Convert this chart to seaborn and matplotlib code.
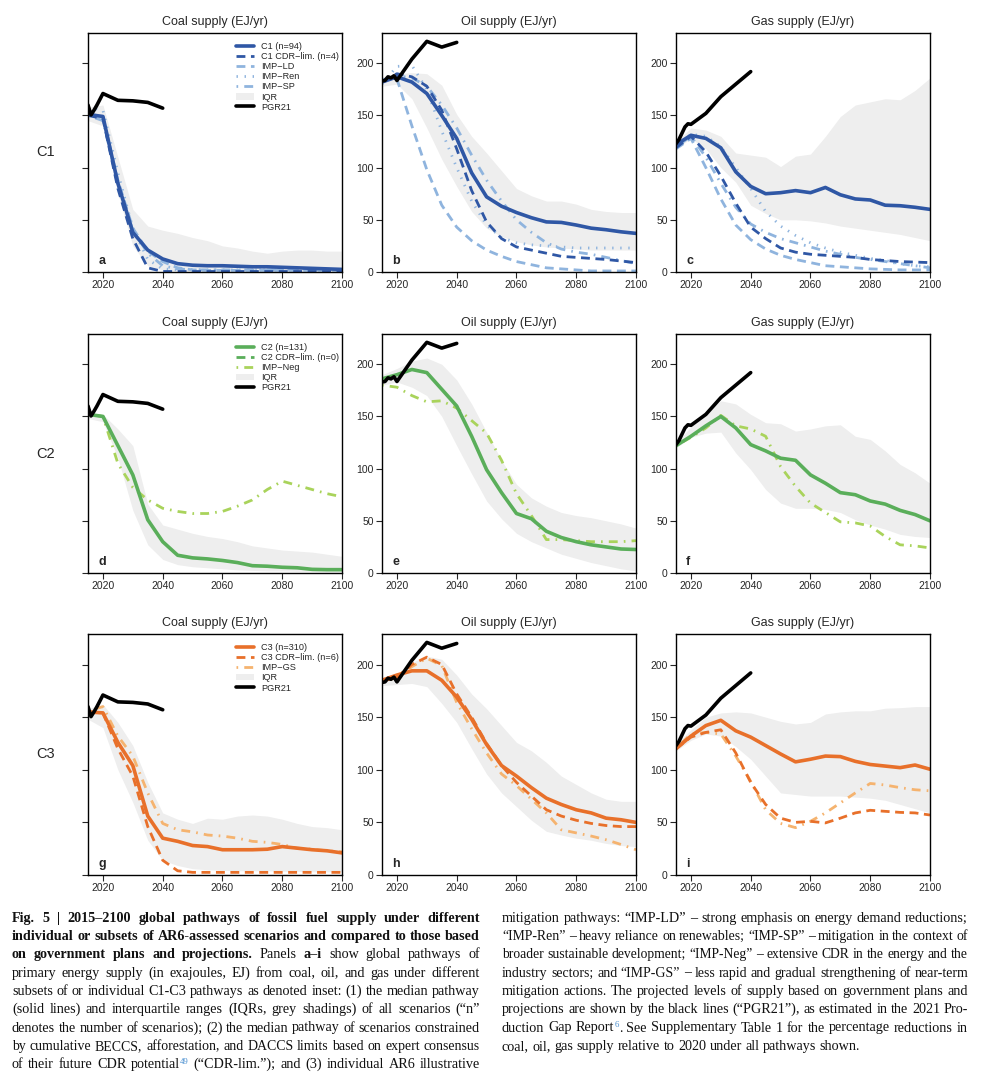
import re
import matplotlib
matplotlib.use("Agg")
import matplotlib.pyplot as plt
import seaborn as sns

### Data (EJ/yr) ###
years = list(range(2015, 2101, 5))
pgr_years = [2015, 2016, 2017, 2018, 2019, 2020, 2025, 2030, 2035, 2040]
pgr_coal = [160, 150.5, 155, 160, 165.5, 171, 164.5, 164, 162.5, 157]
pgr_oil = [183, 183.5, 187, 186, 188, 183.5, 204, 221, 215.5, 220]
pgr_gas = [123, 127, 133, 139, 142, 141.5, 152, 168, 180, 192]

# C1
coal_c1 = [151, 149, 85, 38, 21, 12.5, 8, 6.5, 6, 6, 5.5, 5, 5, 4.5, 4, 3.5, 3, 2.5]
coal_c1_cdr = [150, 147, 80, 32, 4, 0.5, 0.5, 0.5, 0.5, 0.5, 0.5, 0.5, 0.5, 0.5, 0.5, 0.5, 0.5, 0.5]
coal_c1_ld = [152, 148, 88, 42, 20, 10, 4, 2, 1.5, 1.5, 1.5, 1.5, 1.5, 1.5, 1.5, 1.5, 1.5, 1.5]
coal_c1_ren = [158, 155, 95, 42, 12, 3, 2, 2, 2, 2, 2, 2, 2, 2, 2, 2, 2, 2]
coal_c1_sp = [150, 145, 85, 40, 18, 6, 3, 2, 2, 2, 2, 2, 2, 2, 2, 2, 2, 2]
coal_c1_lo = [145, 140, 75, 25, 6, 2, 1, 0.5, 0.5, 0.5, 0.5, 0.5, 0.5, 0.5, 0.5, 0.5, 0.5, 0.5]
coal_c1_hi = [158, 160, 110, 60, 44, 40, 37, 33, 30, 25, 23, 20, 18, 20, 21, 21, 20, 20]

oil_c1 = [182, 187, 182, 171, 150, 128, 95, 72, 63, 57, 52, 48, 47.5, 45, 42, 40.5, 38.5, 37]
oil_c1_cdr = [183, 190, 187, 178, 155, 118, 78, 48, 32, 24, 21, 18, 15, 14, 13, 12, 10.5, 9]
oil_c1_ld = [184, 185, 140, 98, 64, 43, 30, 21, 15, 10, 7, 4, 3, 2, 1, 1, 1, 1]
oil_c1_ren = [180, 197, 198, 175, 135, 100, 68, 45, 33, 28, 26, 25, 24, 23, 23, 23, 23, 23]
oil_c1_sp = [183, 188, 186, 178, 160, 138, 112, 88, 68, 50, 38, 28, 22, 19, 17, 14, 11, 8]
oil_c1_lo = [178, 180, 166, 138, 108, 82, 58, 42, 34, 29, 26, 24, 23, 22, 21, 21, 21, 21]
oil_c1_hi = [187, 190, 191, 190, 179, 151, 130, 114, 97, 80, 73, 68, 68, 65, 60, 58, 57, 57]

gas_c1 = [122, 131, 128, 119, 96, 82, 75, 76, 78, 76, 81, 74, 70, 69, 64, 63.5, 62, 60]
gas_c1_cdr = [119, 130, 115, 92, 66, 43, 32, 23, 19, 17, 16, 15, 14, 12, 11, 10, 9.5, 9]
gas_c1_ld = [118, 128, 100, 70, 45, 31, 22, 16, 12, 9, 6, 5, 4, 3, 2.5, 2, 2, 2]
gas_c1_ren = [120, 132, 130, 120, 100, 80, 58, 44, 35, 28, 23, 19, 16, 13, 11, 8, 6, 5]
gas_c1_sp = [120, 130, 110, 85, 62, 46, 38, 32, 28, 24, 20, 17, 14, 12, 10, 8, 6, 4]
gas_c1_lo = [118, 128, 118, 100, 86, 64, 56, 50, 50, 49, 47, 44, 42, 40, 38, 36, 33, 30]
gas_c1_hi = [125, 138, 136, 130, 114, 112, 110, 101, 111, 113, 130, 149, 160, 163, 166, 165, 174, 186]

# C2
coal_c2 = [152, 150, 122, 94, 51, 30, 17, 14.5, 13.5, 12, 10, 7, 6.5, 5.5, 5, 3.5, 3.2, 3.2]
coal_c2_neg = [152, 150, 105, 82, 70, 62, 59, 57, 57, 59, 64, 70, 80, 88, 84, 80, 76, 73]
coal_c2_lo = [148, 145, 110, 60, 27, 13, 8, 6, 5, 4, 3, 2.5, 2, 2, 1.5, 1.5, 1, 1]
coal_c2_hi = [153, 152, 138, 122, 66, 46, 42, 38, 35, 33, 30, 26, 24, 22, 21, 20, 18, 16]

oil_c2 = [186, 190, 195, 192, 176, 160, 131, 99, 77, 57, 52, 40, 34, 30, 27, 25, 23, 22.5]
oil_c2_neg = [180, 178, 170, 164, 165, 158, 146, 134, 108, 76, 55, 32, 32, 31, 30, 30, 30, 31]
oil_c2_lo = [180, 183, 178, 170, 150, 122, 95, 69, 52, 38, 30, 24, 18, 14, 10, 7, 4, 2]
oil_c2_hi = [190, 196, 203, 206, 200, 185, 162, 135, 108, 85, 72, 64, 58, 55, 53, 50, 47, 43]

gas_c2 = [122, 131, 141, 150, 139, 123, 117, 110, 108, 94, 86, 77, 75, 69, 66, 60, 56, 50]
gas_c2_neg = [122, 130, 139, 151, 141, 138, 131, 102, 83, 67, 58, 49, 48, 45, 35, 27, 26, 24]
gas_c2_lo = [120, 130, 134, 135, 115, 99, 80, 67, 62, 62, 61, 58, 51, 46, 42, 37, 35, 34]
gas_c2_hi = [125, 140, 155, 165, 162, 152, 144, 143, 136, 138, 141, 142, 131, 128, 117, 104, 96, 86]

# C3
coal_c3 = [155, 154, 126, 104, 56, 35, 32, 28, 27, 24, 24, 24, 24.5, 27, 25.5, 24, 23, 21]
coal_c3_cdr = [155, 154, 120, 94, 46, 14, 4, 2.5, 2.5, 2.5, 2.5, 2.5, 2.5, 2.5, 2.5, 2.5, 2.5, 2.5]
coal_c3_gs = [156, 160, 132, 113, 78, 49, 43, 41, 38, 37, 35, 32, 31, 29, 25.5, 24.5, 23, 22]
coal_c3_lo = [148, 140, 100, 69, 33, 14, 9, 6, 5, 4.5, 4, 4, 4, 3.5, 3.5, 3, 3, 3]
coal_c3_hi = [158, 162, 145, 123, 88, 59, 53, 49, 54, 53, 56, 57, 56, 53, 49, 46, 45, 43]

oil_c3 = [185, 190, 194, 194, 185, 169, 148, 124, 104, 94, 83, 73, 67, 62, 59, 54, 52.5, 50]
oil_c3_cdr = [184, 188, 200, 207, 200, 172, 150, 125, 104, 88, 75, 62, 56, 52, 49, 47, 46, 46]
oil_c3_gs = [183, 188, 198, 206, 199, 164, 139, 116, 96, 85, 72, 59, 43, 40, 37, 33.5, 29, 24]
oil_c3_lo = [180, 181, 182, 179, 163, 145, 120, 96, 78, 65, 52, 41.5, 38, 35, 33, 30, 28, 27]
oil_c3_hi = [188, 191, 202, 208, 205, 190, 172, 158, 142, 126, 118, 107, 94, 86, 78, 72, 70, 70]

gas_c3 = [120, 132, 142, 147, 137, 131, 123, 115, 107.5, 110, 113, 112.5, 108, 105, 103.5, 102, 104.5, 100.5]
gas_c3_cdr = [120, 131, 135.5, 138, 116, 88, 67, 54, 50, 51, 49.5, 54, 59, 61.5, 60.5, 59.5, 59, 57]
gas_c3_gs = [120, 134, 135.5, 134, 113, 89, 62, 49, 45, 51, 59, 68.5, 78, 87, 85.5, 83, 81, 80]
gas_c3_lo = [118, 128, 134, 132, 122, 110, 94, 78, 76.5, 75, 75, 75, 74, 73, 71, 67, 63, 59]
gas_c3_hi = [125, 138, 150, 154, 155, 154, 150, 146, 143.5, 145, 153, 155, 156, 156, 158.5, 159, 160, 160]

fuels = ["Coal", "Oil", "Gas"]
pgr = [pgr_coal, pgr_oil, pgr_gas]
letters = ["a", "b", "c", "d", "e", "f", "g", "h", "i"]

### Styles ###
c_blue, c_blue_l = "#2f57a5", "#8fb4de"
c_green, c_green_l = "#5aae5a", "#a9d35b"
c_orange, c_orange_l = "#e8702a", "#f5b36f"
iqr_grey = "#eeeeee"
DASH = (0, (3.2, 2.0))
DOT = (0, (0.5, 2.4))
DASHDOT = (0, (0.6, 2.2, 3.2, 2.2))
M = "\u2212"

rows = [
    dict(name="C1", color=c_blue, light=c_blue_l,
         med_label="C1 (n=94)", cdr_label=f"C1 CDR{M}lim. (n=4)",
         imp_labels=[f"IMP{M}LD", f"IMP{M}Ren", f"IMP{M}SP"], imp_styles=[DASH, DOT, DASHDOT],
         panels=[(coal_c1, coal_c1_cdr, [coal_c1_ld, coal_c1_ren, coal_c1_sp], coal_c1_lo, coal_c1_hi),
                 (oil_c1, oil_c1_cdr, [oil_c1_ld, oil_c1_ren, oil_c1_sp], oil_c1_lo, oil_c1_hi),
                 (gas_c1, gas_c1_cdr, [gas_c1_ld, gas_c1_ren, gas_c1_sp], gas_c1_lo, gas_c1_hi)]),
    dict(name="C2", color=c_green, light=c_green_l,
         med_label="C2 (n=131)", cdr_label=f"C2 CDR{M}lim. (n=0)",
         imp_labels=[f"IMP{M}Neg"], imp_styles=[DASHDOT],
         panels=[(coal_c2, None, [coal_c2_neg], coal_c2_lo, coal_c2_hi),
                 (oil_c2, None, [oil_c2_neg], oil_c2_lo, oil_c2_hi),
                 (gas_c2, None, [gas_c2_neg], gas_c2_lo, gas_c2_hi)]),
    dict(name="C3", color=c_orange, light=c_orange_l,
         med_label="C3 (n=310)", cdr_label=f"C3 CDR{M}lim. (n=6)",
         imp_labels=[f"IMP{M}GS"], imp_styles=[DASHDOT],
         panels=[(coal_c3, coal_c3_cdr, [coal_c3_gs], coal_c3_lo, coal_c3_hi),
                 (oil_c3, oil_c3_cdr, [oil_c3_gs], oil_c3_lo, oil_c3_hi),
                 (gas_c3, gas_c3_cdr, [gas_c3_gs], gas_c3_lo, gas_c3_hi)]),
]

### Figure ###
sns.set_style("ticks")
plt.rcParams["font.family"] = ["Liberation Sans", "DejaVu Sans"]
W, H = 987, 1075
fig = plt.figure(figsize=(W / 100, H / 100), dpi=100)

col_left = [88, 382, 676]
row_top = [33, 334, 634]
row_h = [239, 239, 241]

for r, row in enumerate(rows):
    fig.text(46 / W, 1 - (row_top[r] + row_h[r] / 2) / H, row["name"], fontsize=10.5, ha="center", va="center")
    for c in range(3):
        ax = fig.add_axes([col_left[c] / W, 1 - (row_top[r] + row_h[r]) / H, 254 / W, row_h[r] / H])
        med, cdr, imps, lo, hi = row["panels"][c]

        ax.fill_between(years, lo, hi, color=iqr_grey, lw=0, label="IQR")
        for vals, lab, ls in zip(imps, row["imp_labels"], row["imp_styles"]):
            sns.lineplot(x=years, y=vals, ax=ax, color=row["light"], lw=2.0, linestyle=ls,
                         label=lab, estimator=None, legend=False)
        if cdr is not None:
            sns.lineplot(x=years, y=cdr, ax=ax, color=row["color"], lw=2.0, linestyle=DASH,
                         label=row["cdr_label"], estimator=None, legend=False)
        else:
            ax.plot([], [], color=row["color"], lw=2.0, linestyle=DASH, label=row["cdr_label"])
        sns.lineplot(x=years, y=med, ax=ax, color=row["color"], lw=2.6,
                     label=row["med_label"], estimator=None, legend=False)
        sns.lineplot(x=pgr_years, y=pgr[c], ax=ax, color="black", lw=2.6,
                     label="PGR21", estimator=None, legend=False)

        ax.set(xlim=(2015, 2100), ylim=(0, 229), xlabel="", ylabel="")
        ax.set_xticks([2020, 2040, 2060, 2080, 2100])
        ax.set_yticks([0, 50, 100, 150, 200])
        ax.tick_params(labelsize=7.5, length=4, width=0.8, pad=2, labelleft=(c > 0))
        for s in ax.spines.values():
            s.set_linewidth(1.0)
            s.set_color("black")
        ax.set_title(f"{fuels[c]} supply (EJ/yr)", fontsize=9, pad=6)
        ax.text(0.04, 0.045, letters[r * 3 + c], transform=ax.transAxes, fontsize=9,
                fontweight="bold", va="center", ha="left")

        if c == 0:
            handles, labels = ax.get_legend_handles_labels()
            order = [row["med_label"], row["cdr_label"]] + row["imp_labels"] + ["IQR", "PGR21"]
            hl = dict(zip(labels, handles))
            ax.legend([hl[k] for k in order], order, loc="upper right", bbox_to_anchor=(1.01, 0.985),
                      frameon=False, fontsize=6.6, handlelength=1.9, handletextpad=0.8,
                      labelspacing=0.12, borderaxespad=0.2)

### Caption ###
cap_left = [
    "**Fig. 5 | 2015–2100 global pathways of fossil fuel supply under different**",
    "**individual or subsets of AR6-assessed scenarios and compared to those based**",
    "**on government plans and projections.** Panels **a–i** show global pathways of",
    "primary energy supply (in exajoules, EJ) from coal, oil, and gas under different",
    "subsets of or individual C1-C3 pathways as denoted inset: (1) the median pathway",
    "(solid lines) and interquartile ranges (IQRs, grey shadings) of all scenarios (“n”",
    "denotes the number of scenarios); (2) the median pathway of scenarios constrained",
    "by cumulative BECCS, afforestation, and DACCS limits based on expert consensus",
    "of their future CDR potential^49^ (“CDR-lim.”); and (3) individual AR6 illustrative",
]
cap_right = [
    "mitigation pathways: “IMP-LD” – strong emphasis on energy demand reductions;",
    "“IMP-Ren” – heavy reliance on renewables; “IMP-SP” – mitigation in the context of",
    "broader sustainable development; “IMP-Neg” – extensive CDR in the energy and the",
    "industry sectors; and “IMP-GS” – less rapid and gradual strengthening of near-term",
    "mitigation actions. The projected levels of supply based on government plans and",
    "projections are shown by the black lines (“PGR21”), as estimated in the 2021 Pro-",
    "duction Gap Report^6^. See Supplementary Table 1 for the percentage reductions in",
    "coal, oil, gas supply relative to 2020 under all pathways shown.",
]


def parse(line):
    words, bold, sup = [[]], False, False
    for tok in re.split(r"(\*\*|\^| )", line):
        if tok == "**":
            bold = not bold
        elif tok == "^":
            sup = not sup
        elif tok == " ":
            words.append([])
        elif tok:
            words[-1].append((tok, bold, sup))
    return [w for w in words if w]


renderer = fig.canvas.get_renderer()
serif = ["Liberation Serif", "DejaVu Serif"]
CAP_SIZE = 10.2


def width(t):
    return t.get_window_extent(renderer=renderer).width


def space_width(size):
    a = fig.text(0, 0, "a a", fontsize=size, family=serif)
    b = fig.text(0, 0, "aa", fontsize=size, family=serif)
    sw = width(a) - width(b)
    a.remove()
    b.remove()
    return sw


def draw_caption(lines, x0, x1, y0, justify_last):
    for i, line in enumerate(lines):
        y = y0 + i * 18.3
        size = CAP_SIZE
        words = []
        for w in parse(line):
            pieces = []
            for text, bold, sup in w:
                t = fig.text(0, 1 - (y - (4.5 if sup else 0)) / H, text, family=serif,
                             fontsize=size * (0.62 if sup else 1), fontweight="bold" if bold else "normal",
                             color="#4a8fd0" if sup else "#111111", va="baseline")
                pieces.append((t, sup))
            words.append(pieces)
        space = space_width(size)
        natural = sum(width(t) for p in words for t, _ in p) + space * (len(words) - 1)
        if natural > x1 - x0:
            # shrink this line a little so it fits the column
            size = size * (x1 - x0) / natural * 0.995
            for p in words:
                for t, sup in p:
                    t.set_fontsize(size * (0.62 if sup else 1))
            space = space_width(size)
        wsum = [sum(width(t) for t, _ in p) for p in words]
        justify = i < len(lines) - 1 or justify_last
        gap = (x1 - x0 - sum(wsum)) / (len(words) - 1) if justify else space
        x = x0
        for pieces, ww in zip(words, wsum):
            xx = x
            for t, _ in pieces:
                t.set_x(xx / W)
                xx += width(t)
            x += ww + gap


draw_caption(cap_left, 12, 480, 921.7, True)
draw_caption(cap_right, 502, 968, 921.7, False)

plt.savefig("out.png", dpi=100)
